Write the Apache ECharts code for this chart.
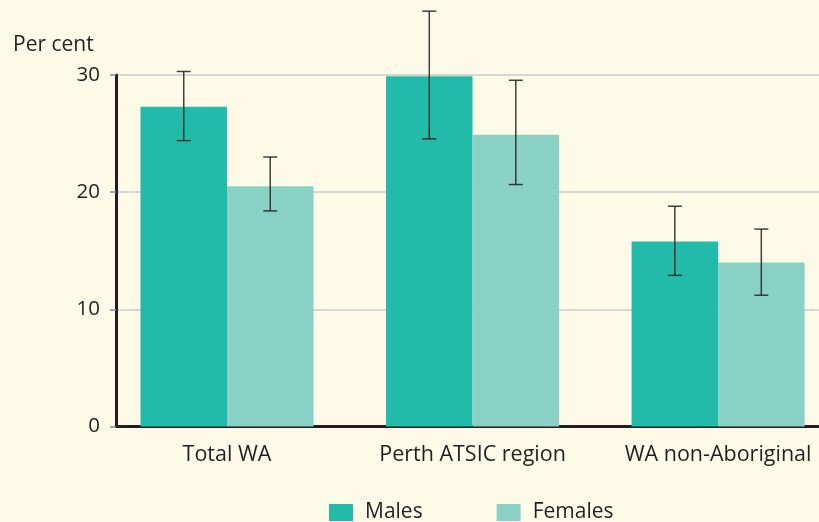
<!DOCTYPE html>
<html>
<head>
<meta charset="utf-8">
<script src="https://cdn.jsdelivr.net/npm/echarts@6/dist/echarts.min.js"></script>
<style>
  html, body { margin: 0; padding: 0; background: #fefae8; }
  #main { width: 819px; height: 522px; }
</style>
</head>
<body>
<div id="main"></div>
<script>
// categories sit at x = 1, 2, 3 on a value axis so the axis can start at the y axis line
const categories = ['Total WA', 'Perth ATSIC region', 'WA non-Aboriginal'];
const catPos = [1, 2, 3];
const males = [27.3, 29.9, 15.8];
const females = [20.5, 24.9, 14.0];
const malesLow = [24.4, 24.55, 12.9];
const malesHigh = [30.3, 35.45, 18.8];
const femalesLow = [18.4, 20.65, 11.2];
const femalesHigh = [23.0, 29.55, 16.85];
const yTicks = [0, 10, 20, 30];

const font = '"Open Sans", "Noto Sans", sans-serif';
const ink = '#231f20';
const barW = 86.5;

let myChart = echarts.init(document.getElementById('main'));

function errorBars(offset) {
  return function (params, api) {
    let x = api.value(0);
    let lo = api.coord([x, api.value(1)]);
    let hi = api.coord([x, api.value(2)]);
    let cx = lo[0] + offset;
    let cap = 7;
    let style = { stroke: 'rgba(35,31,32,0.85)', lineWidth: 1.5 };
    return {
      type: 'group',
      children: [
        { type: 'line', shape: { x1: cx, y1: hi[1], x2: cx, y2: lo[1] }, style: style },
        { type: 'line', shape: { x1: cx - cap, y1: hi[1], x2: cx + cap, y2: hi[1] }, style: style },
        { type: 'line', shape: { x1: cx - cap, y1: lo[1], x2: cx + cap, y2: lo[1] }, style: style }
      ]
    };
  };
}

let option = {
  backgroundColor: '#fefae8',
  animation: false,
  title: {
    text: 'Per cent',
    left: 8,
    top: 30,
    textStyle: { fontFamily: font, fontSize: 21, fontWeight: 'normal', color: ink }
  },
  legend: {
    left: 324,
    top: 497,
    itemWidth: 24,
    itemHeight: 17,
    itemGap: 74,
    icon: 'rect',
    data: ['Males', 'Females'],
    textStyle: { fontFamily: font, fontSize: 21, color: ink, padding: [0, 0, 0, 7] }
  },
  grid: {
    left: 116,
    right: 0,
    top: 75,
    bottom: 95.5
  },
  xAxis: {
    type: 'value',
    min: 0.548,
    max: 3.411,
    axisLine: { show: true, lineStyle: { color: ink, width: 3 } },
    axisTick: { show: false },
    splitLine: { show: false },
    axisLabel: {
      customValues: catPos,
      margin: 17,
      fontFamily: font,
      fontSize: 21.5,
      color: ink,
      formatter: function (v) { return categories[catPos.indexOf(v)] || ''; }
    }
  },
  yAxis: {
    type: 'value',
    min: yTicks[0],
    max: yTicks[yTicks.length - 1],
    interval: 10,
    axisLine: { show: true, lineStyle: { color: ink, width: 3 } },
    axisTick: { show: true, length: 6, lineStyle: { color: '#8a8a8a', width: 1.5 } },
    splitLine: { show: true, lineStyle: { color: '#d6d6d4', width: 2 } },
    axisLabel: { margin: 16, fontFamily: font, fontSize: 20.5, color: ink }
  },
  series: [
    {
      name: 'Males',
      type: 'bar',
      barWidth: barW,
      barGap: '0%',
      itemStyle: { color: '#22bba9' },
      data: catPos.map((x, i) => [x, males[i]])
    },
    {
      name: 'Females',
      type: 'bar',
      barWidth: barW,
      barGap: '0%',
      itemStyle: { color: '#8ad1c5' },
      data: catPos.map((x, i) => [x, females[i]])
    },
    {
      type: 'custom',
      clip: false,
      z: 5,
      renderItem: errorBars(-barW / 2),
      data: catPos.map((x, i) => [x, malesLow[i], malesHigh[i]])
    },
    {
      type: 'custom',
      clip: false,
      z: 5,
      renderItem: errorBars(barW / 2),
      data: catPos.map((x, i) => [x, femalesLow[i], femalesHigh[i]])
    }
  ]
};

option && myChart.setOption(option);
</script>
</body>
</html>
